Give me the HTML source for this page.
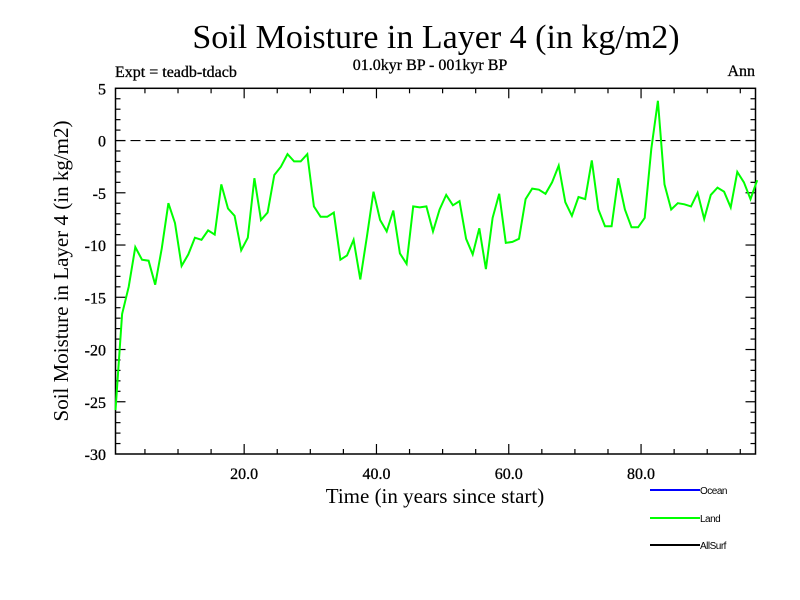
<!DOCTYPE html>
<html><head><meta charset="utf-8"><style>
body{margin:0;background:#fff;}
svg{display:block;}
</style></head><body>
<svg id="chart" width="800" height="600" xmlns="http://www.w3.org/2000/svg" font-family="'Liberation Serif', serif">
<rect width="800" height="600" fill="#fff"/>
<text x="436" y="48" font-size="34" text-anchor="middle">Soil Moisture in Layer 4 (in kg/m2)</text>
<text x="430" y="70" font-size="16" text-anchor="middle" stroke="#000" stroke-width="0.3">01.0kyr BP - 001kyr BP</text>
<text x="115" y="77" font-size="16" stroke="#000" stroke-width="0.3">Expt = teadb-tdacb</text>
<text x="755" y="76" font-size="16" text-anchor="end" stroke="#000" stroke-width="0.3">Ann</text>
<text transform="translate(68,271) rotate(-90)" font-size="21" text-anchor="middle">Soil Moisture in Layer 4 (in kg/m2)</text>
<text x="435" y="503" font-size="21" text-anchor="middle">Time (in years since start)</text>
<g id="axes"></g>
<g id="series"></g>
<g font-family="'Liberation Sans', sans-serif" font-size="10">
<line x1="650" y1="490" x2="700" y2="490" stroke="#0000ff" stroke-width="2"/>
<text x="700" y="494" letter-spacing="-0.5">Ocean</text>
<line x1="650" y1="518" x2="700" y2="518" stroke="#00ff00" stroke-width="2"/>
<text x="700" y="522" letter-spacing="-0.5">Land</text>
<line x1="650" y1="545" x2="700" y2="545" stroke="#000" stroke-width="2"/>
<text x="700" y="549" letter-spacing="-0.5">AllSurf</text>
</g>
</svg>
<script>
const landValues = [-25.8,-16.6,-14.0,-10.2,-11.4,-11.5,-13.8,-10.3,-6.0,-7.9,-12.0,-10.9,-9.3,-9.5,-8.6,-9.0,-4.2,-6.5,-7.2,-10.5,-9.3,-3.6,-7.6,-6.9,-3.3,-2.5,-1.3,-2.0,-2.0,-1.3,-6.3,-7.3,-7.3,-6.9,-11.4,-11.0,-9.5,-13.3,-9.2,-4.9,-7.6,-8.7,-6.7,-10.8,-11.8,-6.3,-6.4,-6.3,-8.7,-6.6,-5.2,-6.2,-5.8,-9.4,-10.9,-8.4,-12.3,-7.4,-5.1,-9.8,-9.7,-9.4,-5.6,-4.6,-4.7,-5.1,-4.0,-2.4,-5.9,-7.2,-5.4,-5.6,-1.9,-6.6,-8.2,-8.2,-3.6,-6.6,-8.3,-8.3,-7.4,-0.8,3.8,-4.2,-6.6,-6.0,-6.1,-6.3,-5.0,-7.5,-5.2,-4.5,-4.9,-6.4,-3.0,-4.0,-5.6,-3.8];
const xTickValues = [20, 40, 60, 80];
const xTickLabels = ["20.0", "40.0", "60.0", "80.0"];
const yTickValues = [5, 0, -5, -10, -15, -20, -25, -30];
const yTickLabels = ["5", "0", "-5", "-10", "-15", "-20", "-25", "-30"];

const NS = "http://www.w3.org/2000/svg";
const L = 115.5, R = 755.5, T = 88.3, B = 454;
const xMin = 0.55, xMax = 97.3, yMin = -30, yMax = 5;
const xs = v => L + (v - xMin) / (xMax - xMin) * (R - L);
const ys = v => B - (v - yMin) / (yMax - yMin) * (B - T);
function mk(tag, attrs, parent) {
  const e = document.createElementNS(NS, tag);
  for (const k in attrs) e.setAttribute(k, attrs[k]);
  parent.appendChild(e);
  return e;
}
const axes = document.getElementById('axes');
const frame = mk('rect', {x: L, y: T, width: R - L, height: B - T, fill: 'none', stroke: '#000', 'stroke-width': 1.5}, axes);


for (let v = 5; v < xMax; v += 5) {
  const x = xs(v), len = (v % 20 === 0) ? 10 : 5;
  const t1 = mk('line', {x1: x, y1: B, x2: x, y2: B - len, stroke: '#000', 'stroke-width': 1.2}, axes);
  
  
  const t2 = mk('line', {x1: x, y1: T, x2: x, y2: T + len, stroke: '#000', 'stroke-width': 1.2}, axes);
  
  
}
xTickValues.forEach((v, i) => {
  const t = mk('text', {x: xs(v), y: B + 25, 'font-size': 16, 'text-anchor': 'middle', stroke: '#000', 'stroke-width': 0.3}, axes);
  t.textContent = xTickLabels[i];
  
  
});
for (let v = yMin + 1; v < yMax; v += 1) {
  const y = ys(v), len = (v % 5 === 0) ? 10 : 5;
  const t1 = mk('line', {x1: L, y1: y, x2: L + len, y2: y, stroke: '#000', 'stroke-width': 1.2}, axes);
  
  
  const t2 = mk('line', {x1: R, y1: y, x2: R - len, y2: y, stroke: '#000', 'stroke-width': 1.2}, axes);
  
  
}
yTickValues.forEach((v, i) => {
  const t = mk('text', {x: 106, y: ys(v) + 6, 'font-size': 16, 'text-anchor': 'end', stroke: '#000', 'stroke-width': 0.3}, axes);
  t.textContent = yTickLabels[i];
  
  
});
const zero = mk('line', {x1: L, y1: ys(0), x2: R, y2: ys(0), stroke: '#000', 'stroke-width': 1.2, 'stroke-dasharray': '10,5'}, axes);



const series = document.getElementById('series');
const pts = landValues.map((v, i) => xs(i + 0.55).toFixed(1) + ',' + ys(v).toFixed(1)).join(' ');
const line = mk('polyline', {points: pts, fill: 'none', stroke: '#00ff00', 'stroke-width': 2, 'stroke-linejoin': 'miter'}, series);


</script>
</body></html>
